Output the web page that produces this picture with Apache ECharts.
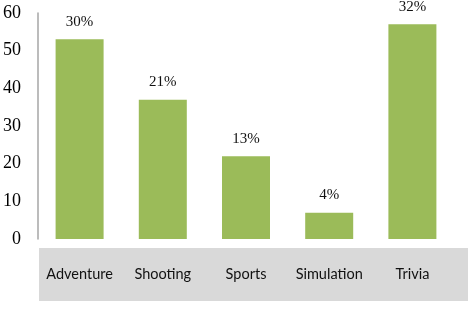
<!DOCTYPE html>
<html>
<head>
<meta charset="utf-8">
<script src="https://cdn.jsdelivr.net/npm/echarts@6/dist/echarts.min.js"></script>
<style>
  html, body { margin: 0; padding: 0; background: #fff; }
  #main { width: 474px; height: 318px; }
</style>
</head>
<body>
<div id="main"></div>
<script>
// 数据
const categories = ['Adventure', 'Shooting', 'Sports', 'Simulation', 'Trivia']
const values = [53, 37, 22, 7, 57]
const percents = ['30%', '21%', '13%', '4%', '32%']
const yTicks = [0, 10, 20, 30, 40, 50, 60]

const chart = echarts.init(document.getElementById('main'))

let option = {
  animation: false,
  grid: { left: 38, right: 20, top: 13, bottom: 79 },
  // 灰色的类目底框
  graphic: [
    {
      type: 'rect',
      left: 39,
      top: 248,
      shape: { width: 429, height: 53 },
      style: { fill: '#d9d9d9' },
      z: -1,
    },
  ],
  xAxis: {
    type: 'category',
    data: categories,
    axisLine: { show: false },
    axisTick: { show: false },
    axisLabel: {
      interval: 0,
      margin: 28,
      color: '#111',
      fontFamily: 'Lato',
      fontSize: 14.5,
    },
  },
  yAxis: {
    type: 'value',
    min: yTicks[0],
    max: yTicks[yTicks.length - 1],
    interval: 10,
    splitLine: { show: false },
    axisLine: { show: true, lineStyle: { color: '#a6a6a6', width: 1.5 } },
    axisTick: { show: false },
    axisLabel: {
      margin: 17,
      color: '#000',
      fontFamily: 'Liberation Serif',
      fontSize: 18,
    },
  },
  series: [
    {
      type: 'bar',
      data: values,
      barWidth: 48,
      itemStyle: { color: '#9bbb59' },
      label: {
        show: true,
        position: 'top',
        distance: 10,
        color: '#111',
        fontFamily: 'Liberation Serif',
        fontSize: 15,
        formatter: (p) => percents[p.dataIndex],
      },
    },
  ],
}
chart.setOption(option)
</script>
</body>
</html>
